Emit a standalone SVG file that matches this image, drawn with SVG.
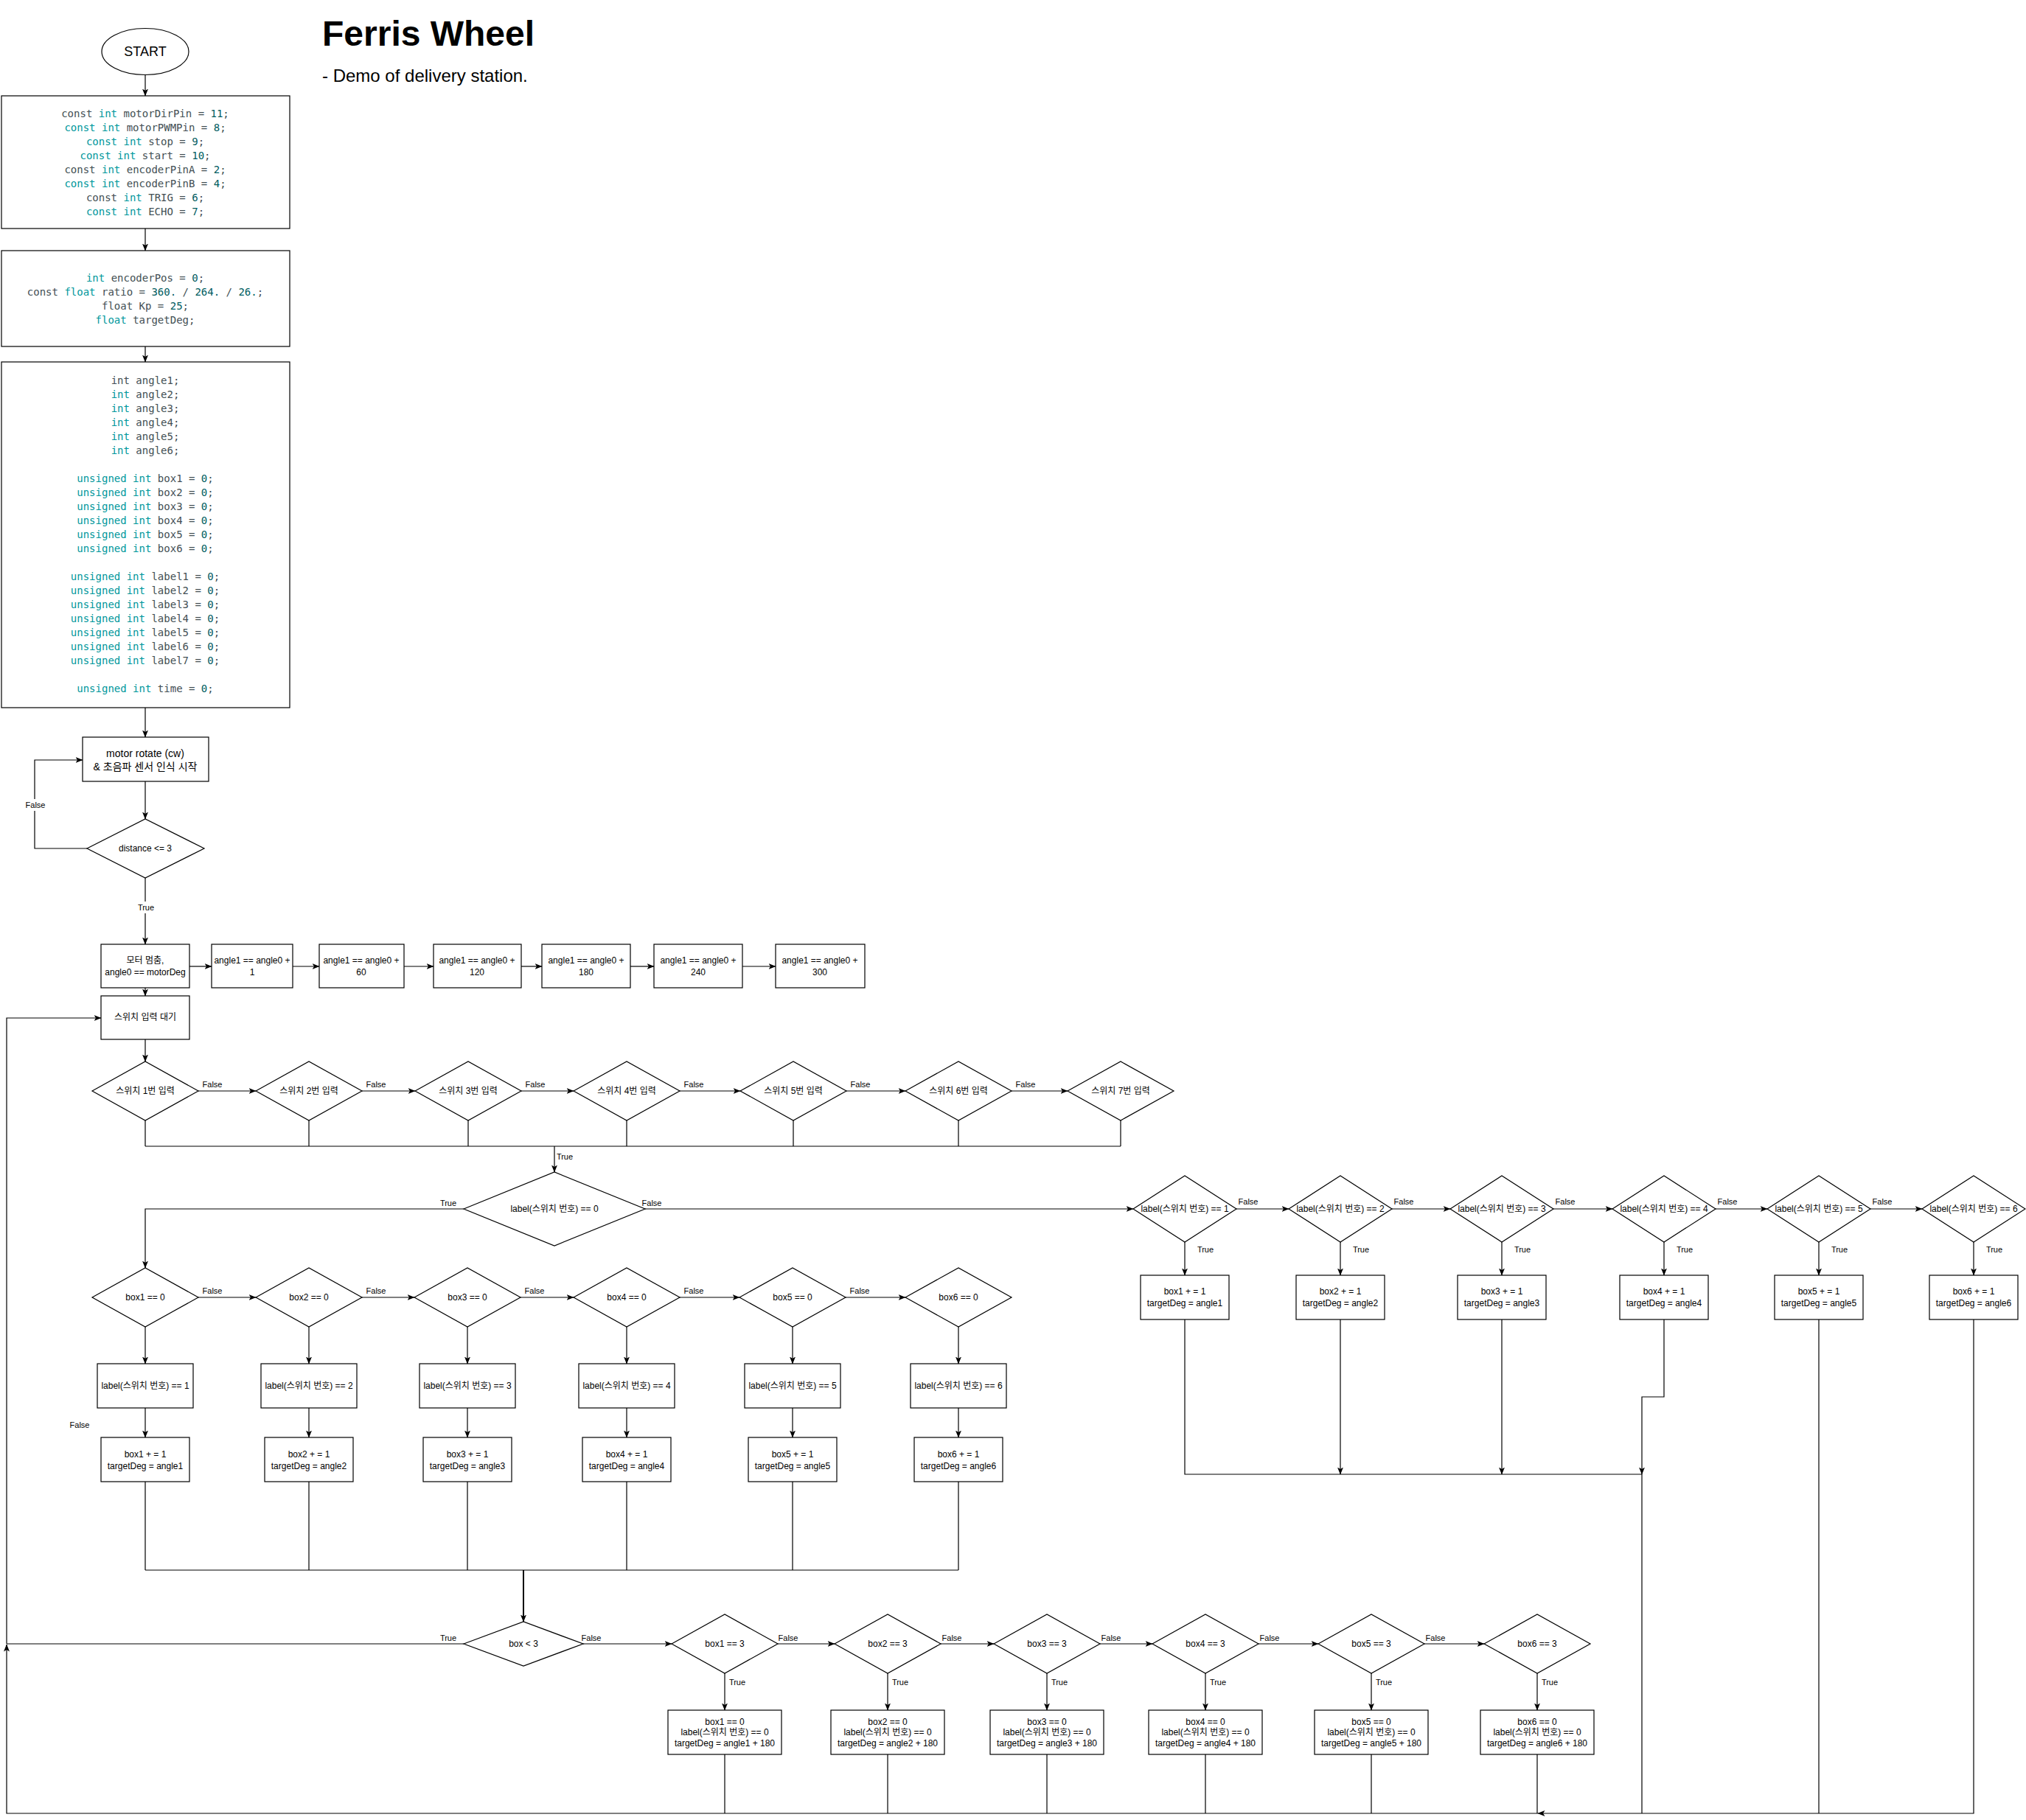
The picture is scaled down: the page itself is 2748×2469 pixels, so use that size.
<svg xmlns="http://www.w3.org/2000/svg" width="2748" height="2469" viewBox="0 0 2748 2469">
<style>
.b{fill:#fff;stroke:#000;stroke-width:1.2}
.c{fill:none;stroke:#000;stroke-width:1.2}
.ca{fill:none;stroke:#000;stroke-width:1.2;marker-end:url(#ar)}
text{font-family:"Liberation Sans","Noto Sans CJK KR",sans-serif;fill:#000}
.t{font-size:12px;text-anchor:middle;dominant-baseline:central}
.t14{font-size:14px;text-anchor:middle;dominant-baseline:central}
.lb{font-size:11px;text-anchor:middle;dominant-baseline:central}
.code{font-family:"DejaVu Sans Mono","Liberation Mono",monospace;font-size:14px;text-anchor:middle;dominant-baseline:central;fill:#434f54}
.k{fill:#00979c}
.n{fill:#005c5f}
.bg{fill:#fff;stroke:none}
</style>
<defs>
<marker id="ar" viewBox="0 0 10 8" refX="9.5" refY="4" markerWidth="10" markerHeight="8" markerUnits="userSpaceOnUse" orient="auto"><path d="M0,0 L10,4 L0,8 L2.5,4 z" fill="#000"/></marker>
</defs>
<rect width="2748" height="2469" fill="#fff"/>

<g id="title">
<text x="437" y="62" style="font-size:48px;font-weight:bold">Ferris Wheel</text>
<text x="437" y="111" style="font-size:24px">- Demo of delivery station.</text>
</g>

<g id="connectors">
<path class="ca" d="M197,102 V130"/>
<path class="ca" d="M197,310 V340"/>
<path class="ca" d="M197,470 V491"/>
<path class="ca" d="M197,960 V1000"/>
<path class="ca" d="M197,1060 V1111"/>
<path class="ca" d="M118,1151 H47 V1031 H112"/>
<path class="ca" d="M197,1191 V1281"/>
<path class="ca" d="M257,1311 H287"/>
<path class="ca" d="M397,1311 H433"/>
<path class="ca" d="M548,1311 H588"/>
<path class="ca" d="M707,1311 H735"/>
<path class="ca" d="M855,1311 H887"/>
<path class="ca" d="M1007,1311 H1052"/>
<path class="ca" d="M197,1340 V1351"/>
<path class="ca" d="M197,1410 V1440"/>
<path class="ca" d="M269,1480 H347"/>
<path class="ca" d="M491,1480 H563"/>
<path class="ca" d="M707,1480 H778"/>
<path class="ca" d="M922,1480 H1004"/>
<path class="ca" d="M1148,1480 H1228"/>
<path class="ca" d="M1372,1480 H1448"/>
<path class="c" d="M197,1520 V1555 M419,1520 V1555 M635,1520 V1555 M850,1520 V1555 M1076,1520 V1555 M1300,1520 V1555 M1520,1520 V1555 M197,1555 H1520"/>
<path class="ca" d="M752,1555 V1590"/>
<path class="ca" d="M629,1640 H197 V1720"/>
<path class="ca" d="M875,1640 H1537"/>
<path class="ca" d="M1677,1640 H1748"/>
<path class="ca" d="M1888,1640 H1967"/>
<path class="ca" d="M2107,1640 H2187"/>
<path class="ca" d="M2327,1640 H2397"/>
<path class="ca" d="M2537,1640 H2607"/>
<path class="ca" d="M1607,1685 V1730"/>
<path class="ca" d="M1818,1685 V1730"/>
<path class="ca" d="M2037,1685 V1730"/>
<path class="ca" d="M2257,1685 V1730"/>
<path class="ca" d="M2467,1685 V1730"/>
<path class="ca" d="M2677,1685 V1730"/>
<path class="c" d="M1607,1790 V2000 H2227"/>
<path class="ca" d="M1818,1790 V2000"/>
<path class="ca" d="M2037,1790 V2000"/>
<path class="ca" d="M2257,1790 V1895 H2227 V2000"/>
<path class="c" d="M2227,2000 V2460 M2467,1790 V2460"/>
<path class="ca" d="M2677,1790 V2460 H2086"/>
<path class="ca" d="M269,1760 H347"/>
<path class="ca" d="M491,1760 H562"/>
<path class="ca" d="M706,1760 H778"/>
<path class="ca" d="M922,1760 H1003"/>
<path class="ca" d="M1147,1760 H1228"/>
<path class="ca" d="M197,1800 V1850"/>
<path class="ca" d="M419,1800 V1850"/>
<path class="ca" d="M634,1800 V1850"/>
<path class="ca" d="M850,1800 V1850"/>
<path class="ca" d="M1075,1800 V1850"/>
<path class="ca" d="M1300,1800 V1850"/>
<path class="ca" d="M197,1910 V1950"/>
<path class="ca" d="M419,1910 V1950"/>
<path class="ca" d="M634,1910 V1950"/>
<path class="ca" d="M850,1910 V1950"/>
<path class="ca" d="M1075,1910 V1950"/>
<path class="ca" d="M1300,1910 V1950"/>
<path class="c" d="M197,2010 V2130 M419,2010 V2130 M634,2010 V2130 M850,2010 V2130 M1075,2010 V2130 M1300,2010 V2130 M197,2130 H1300"/>
<path class="ca" d="M710,2130 V2200" style="stroke-width:2"/>
<path class="c" d="M629,2230 H9"/>
<path class="ca" d="M791,2230 H911"/>
<path class="ca" d="M1055,2230 H1132"/>
<path class="ca" d="M1276,2230 H1348"/>
<path class="ca" d="M1492,2230 H1563"/>
<path class="ca" d="M1707,2230 H1788"/>
<path class="ca" d="M1932,2230 H2013"/>
<path class="ca" d="M983,2270 V2320"/>
<path class="ca" d="M1204,2270 V2320"/>
<path class="ca" d="M1420,2270 V2320"/>
<path class="ca" d="M1635,2270 V2320"/>
<path class="ca" d="M1860,2270 V2320"/>
<path class="ca" d="M2085,2270 V2320"/>
<path class="c" d="M983,2380 V2460 M1204,2380 V2460 M1420,2380 V2460 M1635,2380 V2460 M1860,2380 V2460 M2085,2380 V2460"/>
<path class="ca" d="M2086,2460 H9 V2231"/>
<path class="ca" d="M9,2230 V1381 H137"/>
</g>

<g id="edge-labels">
<rect class="bg" x="35" y="1084" width="26" height="16"/>
<text class="lb" x="48" y="1092">False</text>
<rect class="bg" x="185" y="1223" width="26" height="16"/>
<text class="lb" x="198" y="1231">True</text>
<text class="lb" x="288" y="1471">False</text>
<text class="lb" x="510" y="1471">False</text>
<text class="lb" x="726" y="1471">False</text>
<text class="lb" x="941" y="1471">False</text>
<text class="lb" x="1167" y="1471">False</text>
<text class="lb" x="1391" y="1471">False</text>
<text class="lb" x="766" y="1569">True</text>
<text class="lb" x="608" y="1632">True</text>
<text class="lb" x="884" y="1632">False</text>
<text class="lb" x="1693" y="1630">False</text>
<text class="lb" x="1904" y="1630">False</text>
<text class="lb" x="2123" y="1630">False</text>
<text class="lb" x="2343" y="1630">False</text>
<text class="lb" x="2553" y="1630">False</text>
<text class="lb" x="1635" y="1695">True</text>
<text class="lb" x="1846" y="1695">True</text>
<text class="lb" x="2065" y="1695">True</text>
<text class="lb" x="2285" y="1695">True</text>
<text class="lb" x="2495" y="1695">True</text>
<text class="lb" x="2705" y="1695">True</text>
<text class="lb" x="288" y="1751">False</text>
<text class="lb" x="510" y="1751">False</text>
<text class="lb" x="725" y="1751">False</text>
<text class="lb" x="941" y="1751">False</text>
<text class="lb" x="1166" y="1751">False</text>
<text class="lb" x="108" y="1933">False</text>
<text class="lb" x="608" y="2222">True</text>
<text class="lb" x="802" y="2222">False</text>
<text class="lb" x="1069" y="2222">False</text>
<text class="lb" x="1291" y="2222">False</text>
<text class="lb" x="1507" y="2222">False</text>
<text class="lb" x="1722" y="2222">False</text>
<text class="lb" x="1947" y="2222">False</text>
<text class="lb" x="1000" y="2282">True</text>
<text class="lb" x="1221" y="2282">True</text>
<text class="lb" x="1437" y="2282">True</text>
<text class="lb" x="1652" y="2282">True</text>
<text class="lb" x="1877" y="2282">True</text>
<text class="lb" x="2102" y="2282">True</text>
</g>

<g id="start">
<ellipse class="b" cx="197" cy="70" rx="59" ry="31.5"/>
<text class="t" x="197" y="70" style="font-size:18px">START</text>
</g>

<g id="pins">
<rect class="b" x="2" y="130" width="391" height="180"/>
<text class="code" x="197" y="154">const <tspan class="k">int</tspan> motorDirPin = <tspan class="n">11</tspan>;</text>
<text class="code" x="197" y="173"><tspan class="k">const int</tspan> motorPWMPin = <tspan class="n">8</tspan>;</text>
<text class="code" x="197" y="192"><tspan class="k">const int</tspan> stop = <tspan class="n">9</tspan>;</text>
<text class="code" x="197" y="211"><tspan class="k">const int</tspan> start = <tspan class="n">10</tspan>;</text>
<text class="code" x="197" y="230">const <tspan class="k">int</tspan> encoderPinA = <tspan class="n">2</tspan>;</text>
<text class="code" x="197" y="249"><tspan class="k">const int</tspan> encoderPinB = <tspan class="n">4</tspan>;</text>
<text class="code" x="197" y="268">const <tspan class="k">int</tspan> TRIG = <tspan class="n">6</tspan>;</text>
<text class="code" x="197" y="287"><tspan class="k">const int</tspan> ECHO = <tspan class="n">7</tspan>;</text>
</g>

<g id="vars">
<rect class="b" x="2" y="340" width="391" height="130"/>
<text class="code" x="197" y="377"><tspan class="k">int</tspan> encoderPos = <tspan class="n">0</tspan>;</text>
<text class="code" x="197" y="396">const <tspan class="k">float</tspan> ratio = <tspan class="n">360.</tspan> / <tspan class="n">264.</tspan> / <tspan class="n">26.</tspan>;</text>
<text class="code" x="197" y="415">float Kp = <tspan class="n">25</tspan>;</text>
<text class="code" x="197" y="434"><tspan class="k">float</tspan> targetDeg;</text>
</g>

<g id="globals">
<rect class="b" x="2" y="491" width="391" height="469"/>
<text class="code" x="197" y="516">int angle1;</text>
<text class="code" x="197" y="535"><tspan class="k">int</tspan> angle2;</text>
<text class="code" x="197" y="554"><tspan class="k">int</tspan> angle3;</text>
<text class="code" x="197" y="573"><tspan class="k">int</tspan> angle4;</text>
<text class="code" x="197" y="592"><tspan class="k">int</tspan> angle5;</text>
<text class="code" x="197" y="611"><tspan class="k">int</tspan> angle6;</text>
<text class="code" x="197" y="649"><tspan class="k">unsigned int</tspan> box1 = <tspan class="n">0</tspan>;</text>
<text class="code" x="197" y="668"><tspan class="k">unsigned int</tspan> box2 = <tspan class="n">0</tspan>;</text>
<text class="code" x="197" y="687"><tspan class="k">unsigned int</tspan> box3 = <tspan class="n">0</tspan>;</text>
<text class="code" x="197" y="706"><tspan class="k">unsigned int</tspan> box4 = <tspan class="n">0</tspan>;</text>
<text class="code" x="197" y="725"><tspan class="k">unsigned int</tspan> box5 = <tspan class="n">0</tspan>;</text>
<text class="code" x="197" y="744"><tspan class="k">unsigned int</tspan> box6 = <tspan class="n">0</tspan>;</text>
<text class="code" x="197" y="782"><tspan class="k">unsigned int</tspan> label1 = <tspan class="n">0</tspan>;</text>
<text class="code" x="197" y="801"><tspan class="k">unsigned int</tspan> label2 = <tspan class="n">0</tspan>;</text>
<text class="code" x="197" y="820"><tspan class="k">unsigned int</tspan> label3 = <tspan class="n">0</tspan>;</text>
<text class="code" x="197" y="839"><tspan class="k">unsigned int</tspan> label4 = <tspan class="n">0</tspan>;</text>
<text class="code" x="197" y="858"><tspan class="k">unsigned int</tspan> label5 = <tspan class="n">0</tspan>;</text>
<text class="code" x="197" y="877"><tspan class="k">unsigned int</tspan> label6 = <tspan class="n">0</tspan>;</text>
<text class="code" x="197" y="896"><tspan class="k">unsigned int</tspan> label7 = <tspan class="n">0</tspan>;</text>
<text class="code" x="197" y="934"><tspan class="k">unsigned int</tspan> time = <tspan class="n">0</tspan>;</text>
</g>

<g id="motor">
<rect class="b" x="112" y="1000" width="171" height="60"/>
<text class="t14" x="197" y="1022">motor rotate (cw)</text>
<text class="t14" x="197" y="1040">&amp; 초음파 센서 인식 시작</text>
</g>

<g id="distance">
<polygon class="b" points="118,1151 197,1111 277,1151 197,1191"/>
<text class="t" x="197" y="1151">distance &lt;= 3</text>
</g>

<g id="stop">
<rect class="b" x="137" y="1281" width="120" height="59"/>
<text class="t" x="197" y="1303">모터 멈춤,</text>
<text class="t" x="197" y="1319">angle0 == motorDeg</text>
</g>

<g id="angle1"><rect class="b" x="287" y="1281" width="110" height="59"/><text class="t" x="342" y="1303">angle1 == angle0 +</text><text class="t" x="342" y="1319">1</text></g>
<g id="angle2"><rect class="b" x="433" y="1281" width="115" height="59"/><text class="t" x="490" y="1303">angle1 == angle0 +</text><text class="t" x="490" y="1319">60</text></g>
<g id="angle3"><rect class="b" x="588" y="1281" width="119" height="59"/><text class="t" x="647" y="1303">angle1 == angle0 +</text><text class="t" x="647" y="1319">120</text></g>
<g id="angle4"><rect class="b" x="735" y="1281" width="120" height="59"/><text class="t" x="795" y="1303">angle1 == angle0 +</text><text class="t" x="795" y="1319">180</text></g>
<g id="angle5"><rect class="b" x="887" y="1281" width="120" height="59"/><text class="t" x="947" y="1303">angle1 == angle0 +</text><text class="t" x="947" y="1319">240</text></g>
<g id="angle6"><rect class="b" x="1052" y="1281" width="121" height="59"/><text class="t" x="1112" y="1303">angle1 == angle0 +</text><text class="t" x="1112" y="1319">300</text></g>

<g id="wait">
<rect class="b" x="137" y="1351" width="120" height="59"/>
<text class="t" x="197" y="1380">스위치 입력 대기</text>
</g>

<g id="sw1"><polygon class="b" points="125,1480 197,1440 269,1480 197,1520"/><text class="t" x="197" y="1480">스위치 1번 입력</text></g>
<g id="sw2"><polygon class="b" points="347,1480 419,1440 491,1480 419,1520"/><text class="t" x="419" y="1480">스위치 2번 입력</text></g>
<g id="sw3"><polygon class="b" points="563,1480 635,1440 707,1480 635,1520"/><text class="t" x="635" y="1480">스위치 3번 입력</text></g>
<g id="sw4"><polygon class="b" points="778,1480 850,1440 922,1480 850,1520"/><text class="t" x="850" y="1480">스위치 4번 입력</text></g>
<g id="sw5"><polygon class="b" points="1004,1480 1076,1440 1148,1480 1076,1520"/><text class="t" x="1076" y="1480">스위치 5번 입력</text></g>
<g id="sw6"><polygon class="b" points="1228,1480 1300,1440 1372,1480 1300,1520"/><text class="t" x="1300" y="1480">스위치 6번 입력</text></g>
<g id="sw7"><polygon class="b" points="1448,1480 1520,1440 1592,1480 1520,1520"/><text class="t" x="1520" y="1480">스위치 7번 입력</text></g>

<g id="label0"><polygon class="b" points="629,1640 752,1590 875,1640 752,1690"/><text class="t" x="752" y="1640">label(스위치 번호) == 0</text></g>

<g id="lab1"><polygon class="b" points="1537,1640 1607,1595 1677,1640 1607,1685"/><text class="t" x="1607" y="1640">label(스위치 번호) == 1</text></g>
<g id="lab2"><polygon class="b" points="1748,1640 1818,1595 1888,1640 1818,1685"/><text class="t" x="1818" y="1640">label(스위치 번호) == 2</text></g>
<g id="lab3"><polygon class="b" points="1967,1640 2037,1595 2107,1640 2037,1685"/><text class="t" x="2037" y="1640">label(스위치 번호) == 3</text></g>
<g id="lab4"><polygon class="b" points="2187,1640 2257,1595 2327,1640 2257,1685"/><text class="t" x="2257" y="1640">label(스위치 번호) == 4</text></g>
<g id="lab5"><polygon class="b" points="2397,1640 2467,1595 2537,1640 2467,1685"/><text class="t" x="2467" y="1640">label(스위치 번호) == 5</text></g>
<g id="lab6"><polygon class="b" points="2607,1640 2677,1595 2747,1640 2677,1685"/><text class="t" x="2677" y="1640">label(스위치 번호) == 6</text></g>

<g id="set1"><rect class="b" x="1547" y="1730" width="120" height="60"/><text class="t" x="1607" y="1752">box1 + = 1</text><text class="t" x="1607" y="1768">targetDeg = angle1</text></g>
<g id="set2"><rect class="b" x="1758" y="1730" width="120" height="60"/><text class="t" x="1818" y="1752">box2 + = 1</text><text class="t" x="1818" y="1768">targetDeg = angle2</text></g>
<g id="set3"><rect class="b" x="1977" y="1730" width="120" height="60"/><text class="t" x="2037" y="1752">box3 + = 1</text><text class="t" x="2037" y="1768">targetDeg = angle3</text></g>
<g id="set4"><rect class="b" x="2197" y="1730" width="120" height="60"/><text class="t" x="2257" y="1752">box4 + = 1</text><text class="t" x="2257" y="1768">targetDeg = angle4</text></g>
<g id="set5"><rect class="b" x="2407" y="1730" width="120" height="60"/><text class="t" x="2467" y="1752">box5 + = 1</text><text class="t" x="2467" y="1768">targetDeg = angle5</text></g>
<g id="set6"><rect class="b" x="2617" y="1730" width="120" height="60"/><text class="t" x="2677" y="1752">box6 + = 1</text><text class="t" x="2677" y="1768">targetDeg = angle6</text></g>

<g id="bz1"><polygon class="b" points="125,1760 197,1720 269,1760 197,1800"/><text class="t" x="197" y="1760">box1 == 0</text></g>
<g id="bz2"><polygon class="b" points="347,1760 419,1720 491,1760 419,1800"/><text class="t" x="419" y="1760">box2 == 0</text></g>
<g id="bz3"><polygon class="b" points="562,1760 634,1720 706,1760 634,1800"/><text class="t" x="634" y="1760">box3 == 0</text></g>
<g id="bz4"><polygon class="b" points="778,1760 850,1720 922,1760 850,1800"/><text class="t" x="850" y="1760">box4 == 0</text></g>
<g id="bz5"><polygon class="b" points="1003,1760 1075,1720 1147,1760 1075,1800"/><text class="t" x="1075" y="1760">box5 == 0</text></g>
<g id="bz6"><polygon class="b" points="1228,1760 1300,1720 1372,1760 1300,1800"/><text class="t" x="1300" y="1760">box6 == 0</text></g>

<g id="lb1"><rect class="b" x="132" y="1850" width="130" height="60"/><text class="t" x="197" y="1880">label(스위치 번호) == 1</text></g>
<g id="lb2"><rect class="b" x="354" y="1850" width="130" height="60"/><text class="t" x="419" y="1880">label(스위치 번호) == 2</text></g>
<g id="lb3"><rect class="b" x="569" y="1850" width="130" height="60"/><text class="t" x="634" y="1880">label(스위치 번호) == 3</text></g>
<g id="lb4"><rect class="b" x="785" y="1850" width="130" height="60"/><text class="t" x="850" y="1880">label(스위치 번호) == 4</text></g>
<g id="lb5"><rect class="b" x="1010" y="1850" width="130" height="60"/><text class="t" x="1075" y="1880">label(스위치 번호) == 5</text></g>
<g id="lb6"><rect class="b" x="1235" y="1850" width="130" height="60"/><text class="t" x="1300" y="1880">label(스위치 번호) == 6</text></g>

<g id="inc1"><rect class="b" x="137" y="1950" width="120" height="60"/><text class="t" x="197" y="1973">box1 + = 1</text><text class="t" x="197" y="1989">targetDeg = angle1</text></g>
<g id="inc2"><rect class="b" x="359" y="1950" width="120" height="60"/><text class="t" x="419" y="1973">box2 + = 1</text><text class="t" x="419" y="1989">targetDeg = angle2</text></g>
<g id="inc3"><rect class="b" x="574" y="1950" width="120" height="60"/><text class="t" x="634" y="1973">box3 + = 1</text><text class="t" x="634" y="1989">targetDeg = angle3</text></g>
<g id="inc4"><rect class="b" x="790" y="1950" width="120" height="60"/><text class="t" x="850" y="1973">box4 + = 1</text><text class="t" x="850" y="1989">targetDeg = angle4</text></g>
<g id="inc5"><rect class="b" x="1015" y="1950" width="120" height="60"/><text class="t" x="1075" y="1973">box5 + = 1</text><text class="t" x="1075" y="1989">targetDeg = angle5</text></g>
<g id="inc6"><rect class="b" x="1240" y="1950" width="120" height="60"/><text class="t" x="1300" y="1973">box6 + = 1</text><text class="t" x="1300" y="1989">targetDeg = angle6</text></g>

<g id="boxlt3"><polygon class="b" points="629,2230 710,2200 791,2230 710,2260"/><text class="t" x="710" y="2230">box &lt; 3</text></g>

<g id="b3_1"><polygon class="b" points="911,2230 983,2190 1055,2230 983,2270"/><text class="t" x="983" y="2230">box1 == 3</text></g>
<g id="b3_2"><polygon class="b" points="1132,2230 1204,2190 1276,2230 1204,2270"/><text class="t" x="1204" y="2230">box2 == 3</text></g>
<g id="b3_3"><polygon class="b" points="1348,2230 1420,2190 1492,2230 1420,2270"/><text class="t" x="1420" y="2230">box3 == 3</text></g>
<g id="b3_4"><polygon class="b" points="1563,2230 1635,2190 1707,2230 1635,2270"/><text class="t" x="1635" y="2230">box4 == 3</text></g>
<g id="b3_5"><polygon class="b" points="1788,2230 1860,2190 1932,2230 1860,2270"/><text class="t" x="1860" y="2230">box5 == 3</text></g>
<g id="b3_6"><polygon class="b" points="2013,2230 2085,2190 2157,2230 2085,2270"/><text class="t" x="2085" y="2230">box6 == 3</text></g>

<g id="r1"><rect class="b" x="906" y="2320" width="154" height="60"/><text class="t" x="983" y="2336">box1 == 0</text><text class="t" x="983" y="2350">label(스위치 번호) == 0</text><text class="t" x="983" y="2365">targetDeg = angle1 + 180</text></g>
<g id="r2"><rect class="b" x="1127" y="2320" width="154" height="60"/><text class="t" x="1204" y="2336">box2 == 0</text><text class="t" x="1204" y="2350">label(스위치 번호) == 0</text><text class="t" x="1204" y="2365">targetDeg = angle2 + 180</text></g>
<g id="r3"><rect class="b" x="1343" y="2320" width="154" height="60"/><text class="t" x="1420" y="2336">box3 == 0</text><text class="t" x="1420" y="2350">label(스위치 번호) == 0</text><text class="t" x="1420" y="2365">targetDeg = angle3 + 180</text></g>
<g id="r4"><rect class="b" x="1558" y="2320" width="154" height="60"/><text class="t" x="1635" y="2336">box4 == 0</text><text class="t" x="1635" y="2350">label(스위치 번호) == 0</text><text class="t" x="1635" y="2365">targetDeg = angle4 + 180</text></g>
<g id="r5"><rect class="b" x="1783" y="2320" width="154" height="60"/><text class="t" x="1860" y="2336">box5 == 0</text><text class="t" x="1860" y="2350">label(스위치 번호) == 0</text><text class="t" x="1860" y="2365">targetDeg = angle5 + 180</text></g>
<g id="r6"><rect class="b" x="2008" y="2320" width="154" height="60"/><text class="t" x="2085" y="2336">box6 == 0</text><text class="t" x="2085" y="2350">label(스위치 번호) == 0</text><text class="t" x="2085" y="2365">targetDeg = angle6 + 180</text></g>
</svg>
